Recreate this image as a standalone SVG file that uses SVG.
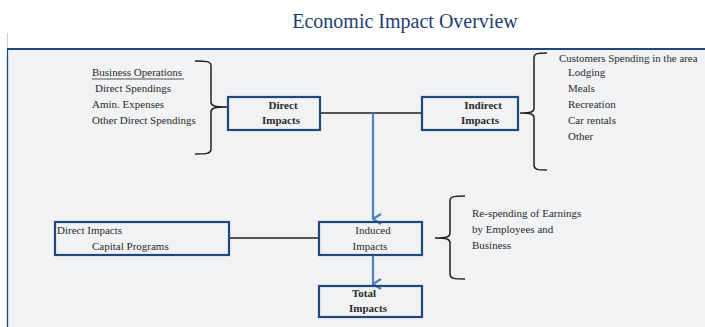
<svg xmlns="http://www.w3.org/2000/svg" width="705" height="327" viewBox="0 0 705 327">
<style>
text{font-family:"Liberation Serif","Times New Roman",serif;fill:#2b2b2b}
.t{font-size:11px}
.s{font-size:10.9px}
.b{font-weight:bold}
.box{fill:none;stroke:#1f497d;stroke-width:2.2}
.ln{stroke:#222;stroke-width:1.3;fill:none}
.br{stroke:#222;stroke-width:1.5;fill:none}
.ar{stroke:#4f81bd;stroke-width:2.2;fill:none}
</style>
<defs>
<marker id="chev" markerWidth="12" markerHeight="10" viewBox="0 0 12 10" refX="6" refY="9" orient="auto-start-reverse" markerUnits="userSpaceOnUse">
<path d="M1 1 L6 9 L11 1" fill="none" stroke="#4f81bd" stroke-width="2.2"/>
</marker>
</defs>
<rect width="705" height="327" fill="#ffffff"/>
<text x="405" y="28" text-anchor="middle" style="font-size:20px;fill:#1f3d73">Economic Impact Overview</text>
<rect x="7.5" y="49" width="698" height="278" fill="#f1f2f4"/>
<line x1="7.5" y1="33" x2="7.5" y2="49" stroke="#d0d0d0" stroke-width="1"/>
<line x1="7.5" y1="49" x2="7.5" y2="327" stroke="#1f497d" stroke-width="1.3"/>
<line x1="7" y1="49" x2="705" y2="49" stroke="#1f497d" stroke-width="2.2"/>

<g id="connectors">
<line class="ln" x1="320" y1="113" x2="422" y2="113"/>
<line class="ln" x1="229" y1="238" x2="319" y2="238"/>
<line class="ar" x1="373" y1="113" x2="373" y2="219" marker-end="url(#chev)"/>
<line class="ar" x1="373" y1="256" x2="373" y2="284" marker-end="url(#chev)"/>
</g>

<g id="left-brace">
<path class="br" d="M195 61 C206 61 211 61 211 66 L211 102 C211 106 214 107 229 107 C214 107 211 108 211 112 L211 149 C211 154 206 154 195 154"/>
<text class="t" x="92" y="76">Business Operations</text>
<line x1="92" y1="79" x2="184" y2="79" stroke="#2b2b2b" stroke-width="0.8"/>
<text class="t" x="95" y="92">Direct Spendings</text>
<text class="t" x="92" y="108">Amin. Expenses</text>
<text class="t" x="92" y="124">Other Direct Spendings</text>
</g>

<g id="direct-impacts">
<rect class="box" x="228" y="97" width="92" height="33"/>
<text class="t b" x="283" y="109" text-anchor="middle">Direct</text>
<text class="t b" x="281" y="124" text-anchor="middle">Impacts</text>
</g>

<g id="indirect-impacts">
<rect class="box" x="422" y="97" width="96" height="33"/>
<text class="t b" x="483" y="109" text-anchor="middle">Indirect</text>
<text class="t b" x="480" y="124" text-anchor="middle">Impacts</text>
</g>

<g id="right-brace">
<path class="br" d="M547 53 C538 53 534 53 534 58 L534 108 C534 112 531 113 520 113 C531 113 534 114 534 118 L534 165 C534 170 538 170 547 170"/>
<text class="s" x="559" y="62">Customers Spending in the area</text>
<text class="t" x="568" y="76">Lodging</text>
<text class="t" x="568" y="92">Meals</text>
<text class="t" x="568" y="108">Recreation</text>
<text class="t" x="568" y="124">Car rentals</text>
<text class="t" x="568" y="140">Other</text>
</g>

<g id="capital-programs">
<rect class="box" x="55" y="222" width="174" height="33"/>
<text class="t" x="57" y="234">Direct Impacts</text>
<text class="t" x="92" y="250">Capital Programs</text>
</g>

<g id="induced-impacts">
<rect class="box" x="319" y="222" width="103" height="33"/>
<text class="t" x="373" y="234" text-anchor="middle">Induced</text>
<text class="t" x="370" y="250" text-anchor="middle">Impacts</text>
</g>

<g id="induced-brace">
<path class="br" d="M465 196 C455 196 450 196 450 201 L450 233 C450 237 447 238 435 238 C447 238 450 239 450 243 L450 274 C450 279 455 279 465 279"/>
<text class="t" x="472" y="217">Re-spending of Earnings</text>
<text class="t" x="472" y="233">by Employees and</text>
<text class="t" x="472" y="249">Business</text>
</g>

<g id="total-impacts">
<rect class="box" x="319" y="286" width="103" height="31"/>
<text class="t b" x="364" y="297" text-anchor="middle">Total</text>
<text class="t b" x="368" y="312" text-anchor="middle">Impacts</text>
</g>
</svg>
